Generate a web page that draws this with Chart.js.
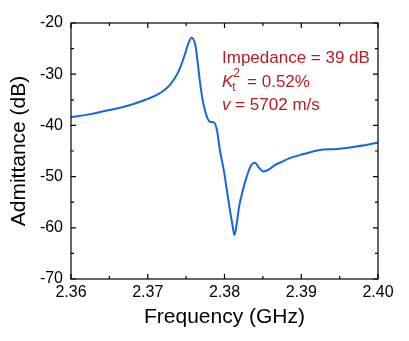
<!DOCTYPE html>
<html>
<head>
<meta charset="utf-8">
<script src="https://cdn.jsdelivr.net/npm/chart.js@4.4.1/dist/chart.umd.min.js"></script>
<style>
  html, body { margin: 0; padding: 0; background: #fff; }
  #wrap { width: 409px; height: 341px; }
</style>
</head>
<body>
<div id="wrap"><canvas id="myChart"></canvas></div>
<script>
// frequency (GHz) and admittance (dB)
var freq = [2.3600, 2.3625, 2.3650, 2.3675, 2.3697, 2.3716, 2.3729, 2.3740, 2.3748, 2.3753, 2.3757, 2.3762,
            2.3765, 2.3768, 2.3772, 2.3777, 2.3781, 2.3786, 2.3790, 2.3794, 2.3799, 2.3803, 2.3807, 2.3810,
            2.3813, 2.3816, 2.3819, 2.3824, 2.3829, 2.3835, 2.3840, 2.3844, 2.3851, 2.3857, 2.3866, 2.3872,
            2.3885, 2.3903, 2.3924, 2.3946, 2.3968, 2.4000];
var admittance = [-38.4, -37.8, -37.0, -36.1, -35.0, -33.7, -32.1, -29.5, -26.3, -24.0, -22.9, -24.3,
                  -27.6, -31.5, -35.4, -38.3, -39.3, -39.4, -40.8, -44.8, -48.7, -52.6, -56.5, -59.1,
                  -61.4, -59.1, -55.9, -52.6, -50.0, -47.7, -47.3, -48.1, -49.0, -48.7, -47.7, -47.3,
                  -46.4, -45.6, -44.8, -44.6, -44.2, -43.4];
var xTicks = [2.36, 2.37, 2.38, 2.39, 2.40];
var yTicks = [-70, -60, -50, -40, -30, -20];

var pts = freq.map(function (f, i) { return { x: f, y: admittance[i] }; });

var FONT = 'Arial, "Liberation Sans", Helvetica, sans-serif';

var frame = {
    id: 'frame',
    afterDraw: function (chart) {
        var c = chart.ctx, a = chart.chartArea;
        var xs = chart.scales.x, ys = chart.scales.y;
        c.save();
        c.strokeStyle = '#000';
        c.lineWidth = 1.2;
        c.strokeRect(a.left, a.top, a.right - a.left, a.bottom - a.top);
        c.beginPath();
        for (var i = 0; i < xTicks.length; i++) {
            var px = xs.getPixelForValue(xTicks[i]);
            c.moveTo(px, a.bottom); c.lineTo(px, a.bottom - 5);
            c.moveTo(px, a.top); c.lineTo(px, a.top + 5);
            if (i < xTicks.length - 1) {
                var mx = xs.getPixelForValue((xTicks[i] + xTicks[i + 1]) / 2);
                c.moveTo(mx, a.bottom); c.lineTo(mx, a.bottom - 3);
                c.moveTo(mx, a.top); c.lineTo(mx, a.top + 3);
            }
        }
        for (var j = 0; j < yTicks.length; j++) {
            var py = ys.getPixelForValue(yTicks[j]);
            c.moveTo(a.left, py); c.lineTo(a.left + 5, py);
            c.moveTo(a.right, py); c.lineTo(a.right - 5, py);
            if (j < yTicks.length - 1) {
                var my = ys.getPixelForValue((yTicks[j] + yTicks[j + 1]) / 2);
                c.moveTo(a.left, my); c.lineTo(a.left + 3, my);
                c.moveTo(a.right, my); c.lineTo(a.right - 3, my);
            }
        }
        c.stroke();

        // annotation
        c.fillStyle = '#b81c22';
        c.textBaseline = 'alphabetic';
        c.textAlign = 'left';
        var x0 = a.left + 151;
        c.font = '17px ' + FONT;
        c.fillText('Impedance = 39 dB', x0, a.top + 40);
        c.font = 'italic 17px ' + FONT;
        c.fillText('K', x0, a.top + 64);
        var kw = c.measureText('K').width;
        c.font = '12px ' + FONT;
        c.fillText('t', x0 + kw - 1, a.top + 68);
        c.fillText('2', x0 + kw - 0, a.top + 54);
        c.font = '17px ' + FONT;
        c.fillText(' = 0.52%', x0 + kw + 9, a.top + 64);
        c.font = 'italic 17px ' + FONT;
        c.fillText('v', x0, a.top + 87);
        var vw = c.measureText('v').width;
        c.font = '17px ' + FONT;
        c.fillText(' = 5702 m/s', x0 + vw, a.top + 87);
        c.restore();
    }
};

var ctx = document.getElementById('myChart');
var myChart = new Chart(ctx, {
    type: 'scatter',
    data: {
        datasets: [{
            data: pts,
            showLine: true,
            borderColor: '#1767dc',
            borderWidth: 2,
            pointRadius: 0,
            cubicInterpolationMode: 'monotone',
            fill: false
        }]
    },
    options: {
        responsive: true,
        maintainAspectRatio: false,
        animation: false,
        devicePixelRatio: 1,
        layout: { padding: { top: 23, right: 31, left: 0, bottom: 0 } },
        plugins: { legend: { display: false }, tooltip: { enabled: false } },
        scales: {
            x: {
                type: 'linear',
                min: 2.36,
                max: 2.40,
                afterBuildTicks: function (s) { s.ticks = xTicks.map(function (v) { return { value: v }; }); },
                afterFit: function (s) { s.height = 62; },
                grid: { display: false, drawTicks: false },
                border: { display: false },
                ticks: {
                    padding: 4,
                    color: '#000',
                    font: { family: FONT, size: 16 },
                    callback: function (v) { return Number(v).toFixed(2); }
                },
                title: {
                    display: true,
                    text: 'Frequency (GHz)',
                    color: '#000',
                    font: { family: FONT, size: 21 },
                    padding: { top: 0, bottom: 11 }
                }
            },
            y: {
                min: -70,
                max: -20,
                afterBuildTicks: function (s) { s.ticks = yTicks.map(function (v) { return { value: v }; }); },
                afterFit: function (s) { s.width = 71; },
                grid: { display: false, drawTicks: false },
                border: { display: false },
                ticks: {
                    padding: 8,
                    color: '#000',
                    font: { family: FONT, size: 16 },
                    callback: function (v) { return String(v); }
                },
                title: {
                    display: true,
                    text: 'Admittance (dB)',
                    color: '#000',
                    font: { family: FONT, size: 21 },
                    padding: { top: 7, bottom: 0 }
                }
            }
        }
    },
    plugins: [frame]
});
</script>
</body>
</html>
